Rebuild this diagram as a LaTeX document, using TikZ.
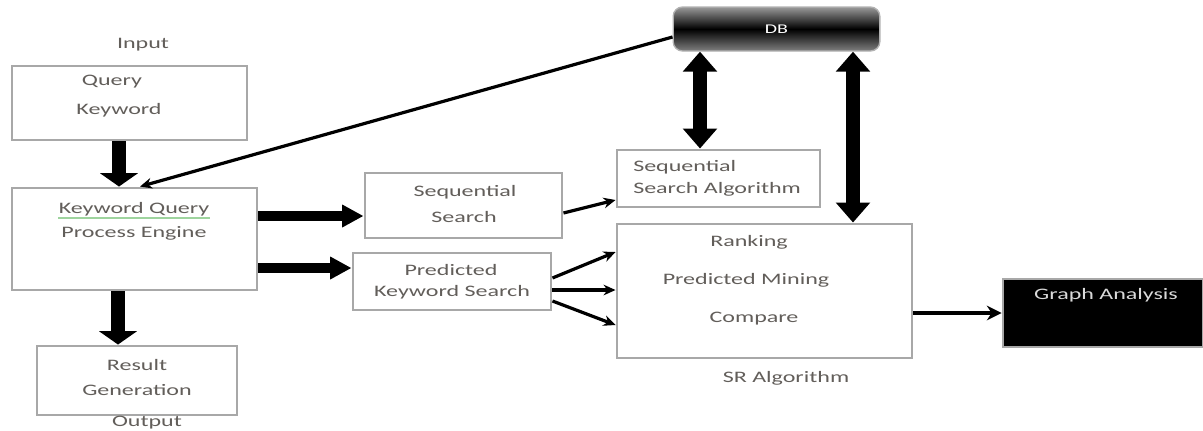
\documentclass[tikz,border=0pt]{standalone}
\usepackage{fontspec}
\setmainfont{Carlito}[FakeStretch=1.5]
\usetikzlibrary{arrows.meta}
\definecolor{boxgray}{HTML}{A8A8A8}
\definecolor{txtgray}{HTML}{625E5A}
\definecolor{ulgreen}{HTML}{9ED49E}
\begin{document}
\begin{tikzpicture}[x=0.75pt,y=-0.75pt,
  font=\fontsize{12}{14}\selectfont,
  box/.style={draw=boxgray, line width=2.2pt, fill=white, inner sep=0pt},
  txt/.style={text=txtgray, inner sep=0pt},
  fatdown/.style={line width=11pt, -{Triangle[length=10pt,width=28pt]}},
  fatright/.style={line width=7pt, -{Triangle[length=16pt,width=16pt]}},
  twoway/.style={line width=10pt, {Triangle[length=15pt,width=25pt]}-{Triangle[length=15pt,width=25pt]}},
  thin/.style={line width=2.4pt, -{Stealth[length=9pt,width=8pt]}},
  dbshape/.style={draw=black!30, line width=1pt, rounded corners=7pt,
    top color=black!40, bottom color=black!50, middle color=black,
    inner sep=0pt, text=white, font=\fontsize{10}{12}\selectfont}]
\useasboundingbox (0,0) rectangle (1203,430);

% boxes
\node[box, minimum width=176.25pt, minimum height=55.5pt] (qk) at (129.5,103) {};
\node[box, minimum width=183.75pt, minimum height=76.5pt] (kq) at (134.5,239) {};
\node[box, minimum width=150pt, minimum height=51.75pt] (rg) at (137,380.5) {};
\node[box, minimum width=147.75pt, minimum height=48.75pt] (ss) at (463.5,205.5) {};
\node[box, minimum width=148.5pt, minimum height=42.75pt] (pk) at (452,281.5) {};
\node[box, minimum width=152.25pt, minimum height=42.75pt] (ssa) at (718.5,178.5) {};
\node[box, minimum width=221.25pt, minimum height=100.5pt] (rk) at (764.5,291) {};
\node[box, fill=black, minimum width=150pt, minimum height=51pt] (ga) at (1103,313) {};
\node[dbshape, minimum width=155pt, minimum height=33pt] (db) at (776.5,29) {DB};

% texts
\node[txt] (tin) at (143,45) {Input};
\node[txt] (tq1) at (112,82) {Query};
\node[txt] (tq2) at (119,110) {Keyword};
\node[txt] (tk1) at (134,209) {Keyword Query};
\draw[ulgreen, line width=1.5pt] ([yshift=-1.5pt]tk1.south west) -- ([yshift=-1.5pt]tk1.south east);
\node[txt] (tk2) at (134,233) {Process Engine};
\node[txt] (tr1) at (137,365) {Result};
\node[txt] (tr2) at (137,390) {Generation};
\node[txt] (tout) at (147,423) {Output};
\node[txt] (ts1) at (465,192) {Sequential};
\node[txt] (ts2) at (464,217) {Search};
\node[txt] (tp1) at (451,270) {Predicted};
\node[txt] (tp2) at (452,292) {Keyword Search};
\node[txt, anchor=west] (ta1) at (633,167) {Sequential};
\node[txt, anchor=west] (ta2) at (633,189) {Search Algorithm};
\node[txt] (tr1b) at (749,242) {Ranking};
\node[txt] (tr2b) at (746,280) {Predicted Mining};
\node[txt] (tr3b) at (754,319) {Compare};
\node[txt] (tsr) at (786,378) {SR Algorithm};
\node[txt, text=white!85!black] (tga) at (1106,295) {Graph Analysis};

% anchor columns and rows for connectors
\coordinate (xa) at (119,0);
\coordinate (xb) at (118,0);
\coordinate (xc) at (140,0);
\coordinate (xd) at (700,0);
\coordinate (xe) at (853,0);
\coordinate (ya) at (0,216);
\coordinate (yb) at (0,268);
\coordinate (yc) at (0,213);
\coordinate (yd) at (0,200);
\coordinate (ye) at (0,278);
\coordinate (yf) at (0,252);
\coordinate (yg) at (0,290);
\coordinate (yh) at (0,301);
\coordinate (yi) at (0,325);
\coordinate (yj) at (0,313);

% connectors
\draw[fatdown] (qk.south -| xa) -- (kq.north -| xa);
\draw[fatdown] (kq.south -| xb) -- (rg.north -| xb);
\draw[fatright] (kq.east |- ya) -- (ss.west |- ya);
\draw[fatright] (kq.east |- yb) -- (pk.west |- yb);
\draw[thin] ([yshift=-6pt]db.west) -- (kq.north -| xc);
\draw[twoway] (db.south -| xd) -- (ssa.north -| xd);
\draw[twoway] (db.south -| xe) -- (rk.north -| xe);
\draw[thin] (ss.east |- yc) -- (ssa.west |- yd);
\draw[thin] (pk.east |- ye) -- (rk.west |- yf);
\draw[thin] (pk.east |- yg) -- (rk.west |- yg);
\draw[thin] (pk.east |- yh) -- (rk.west |- yi);
\draw[line width=3.5pt, -{Stealth[length=11pt,width=11pt]}] (rk.east |- yj) -- (ga.west |- yj);
\end{tikzpicture}
\end{document}
